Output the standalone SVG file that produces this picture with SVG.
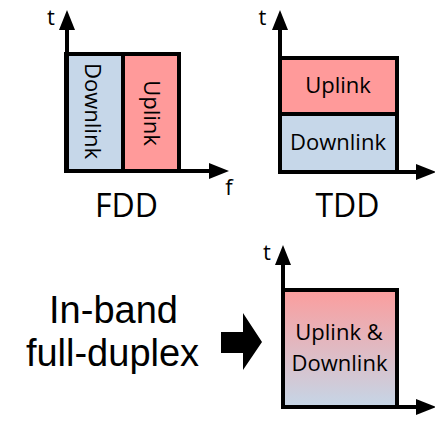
<svg xmlns="http://www.w3.org/2000/svg" width="435" height="432" viewBox="0 0 435 432">
  <defs>
    <style>
      .lbl { font-family: "Open Sans", "Liberation Sans", sans-serif; fill: #000; }
      .big { font-family: "Liberation Sans", "Open Sans", sans-serif; fill: #000; }
      .band { stroke: #000; stroke-width: 4; }
      .axis { stroke: #000; stroke-width: 4; fill: none; }
      .down { fill: #C6D7E9; }
      .up { fill: #FF9A9A; }
    </style>
    <marker id="head" markerUnits="userSpaceOnUse" markerWidth="20" markerHeight="16" viewBox="0 0 20 16" refX="0" refY="8" orient="auto">
      <path d="M0,0 L20,8 L0,16 z" fill="#000"/>
    </marker>
    <linearGradient id="mix" x1="0" y1="0" x2="0" y2="1">
      <stop offset="0" stop-color="#FB9D9D"/>
      <stop offset="1" stop-color="#C5D6E7"/>
    </linearGradient>
  </defs>

  <!-- FDD: frequency split -->
  <g id="fdd">
    <rect class="band down" x="66" y="54" width="57" height="117"/>
    <rect class="band up" x="123" y="54" width="56" height="117"/>
    <text class="lbl" font-size="22" text-anchor="middle" transform="translate(85,111) rotate(90)">Downlink</text>
    <text class="lbl" font-size="22" text-anchor="middle" transform="translate(144,113) rotate(90)">Uplink</text>
    <path class="axis" d="M67,173 V30" marker-end="url(#head)"/>
    <path class="axis" d="M65,171 H209" marker-end="url(#head)"/>
    <text class="lbl" font-size="22" x="51" y="25" text-anchor="middle">t</text>
    <text class="lbl" font-size="22" x="229" y="195" text-anchor="middle">f</text>
    <text class="lbl" font-size="32" x="126.5" y="217" text-anchor="middle">FDD</text>
  </g>

  <!-- TDD: time split -->
  <g id="tdd">
    <rect class="band up" x="280" y="58" width="117" height="56"/>
    <rect class="band down" x="280" y="114" width="117" height="58"/>
    <text class="lbl" font-size="22" x="338" y="93" text-anchor="middle">Uplink</text>
    <text class="lbl" font-size="22" x="338" y="150" text-anchor="middle">Downlink</text>
    <path class="axis" d="M280,174 V30" marker-end="url(#head)"/>
    <path class="axis" d="M278,172 H416" marker-end="url(#head)"/>
    <text class="lbl" font-size="22" x="262.5" y="25" text-anchor="middle">t</text>
    <text class="lbl" font-size="32" x="347.5" y="217" text-anchor="middle">TDD</text>
  </g>

  <!-- In-band full-duplex caption -->
  <g id="ibfd-caption">
    <text class="big" font-size="38" x="113.5" y="323" text-anchor="middle">In-band</text>
    <text class="big" font-size="38" x="112.5" y="366" text-anchor="middle">full-duplex</text>
  </g>

  <!-- Full-duplex: shared time and frequency -->
  <g id="ibfd">
    <rect class="band" fill="url(#mix)" x="283" y="290" width="114" height="117"/>
    <text class="lbl" font-size="22" x="339" y="340" text-anchor="middle">Uplink &amp;</text>
    <text class="lbl" font-size="22" x="339.5" y="371" text-anchor="middle">Downlink</text>
    <path class="axis" d="M283,409 V265" marker-end="url(#head)"/>
    <path class="axis" d="M281,407 H416" marker-end="url(#head)"/>
    <text class="lbl" font-size="22" x="267" y="260" text-anchor="middle">t</text>
  </g>

  <!-- block arrow -->
  <g id="connectors">
    <path d="M221,332 H243 V313 L262,342 L243,370 V353 H221 z" fill="#000"/>
  </g>
</svg>
